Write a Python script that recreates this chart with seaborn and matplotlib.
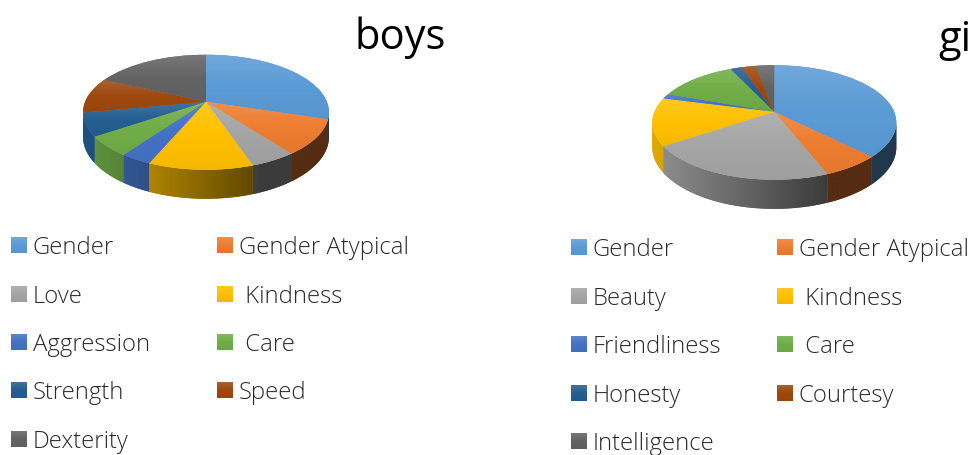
import numpy as np
import matplotlib
matplotlib.use("Agg")
import matplotlib.pyplot as plt
import matplotlib.transforms as mtrans
from matplotlib.patches import Polygon
import seaborn as sns

sns.set_theme(style="white")
plt.rcParams['font.family'] = ['Open Sans', 'DejaVu Sans']

# shares, percent
boys_labels = ['Gender', 'Gender Atypical', 'Love', ' Kindness', 'Aggression',
               ' Care', 'Strength', 'Speed', 'Dexterity']
boys_values = [29.9, 9.9, 5.1, 11.6, 3.5, 5.6, 6.5, 10.0, 18.1]

girls_labels = ['Gender', 'Gender Atypical', 'Beauty', ' Kindness', 'Friendliness',
                ' Care', 'Honesty', 'Courtesy', 'Intelligence']
girls_values = [37.5, 6.5, 21.5, 13.5, 1.4, 12.5, 1.8, 2.2, 3.0]

office_colors = ['#5B9BD5', '#ED7D31', '#A5A5A5', '#FFC000', '#4472C4',
                 '#70AD47', '#255E91', '#9E480E', '#636363']


class Tilt(mtrans.Transform):
    # projective squash of the unit pie, near edge looks bigger than far edge
    input_dims = 2
    output_dims = 2
    is_affine = False
    has_inverse = False

    def __init__(self, cx, cy, rx, ry, k):
        super().__init__()
        self.cx, self.cy, self.rx, self.ry, self.k = cx, cy, rx, ry, k

    def transform_non_affine(self, xy):
        xy = np.asarray(xy, dtype=float)
        w = 1 + self.k * xy[:, 1]
        return np.column_stack([self.cx + self.rx * xy[:, 0] / w,
                                self.cy - self.ry * xy[:, 1] / w])


def gradient(color, n=64):
    base = np.array(matplotlib.colors.to_rgb(color))
    light = base + (1 - base) * 0.13
    dark = base * 0.96
    pal = sns.blend_palette([light, base, dark], n)
    return np.array(pal).reshape(n, 1, 3)


def side_shade(u):
    return np.maximum(0.36, 0.52 - 0.36 * u)


def draw_pie(ax, values, cx, cy, rx, ry, k, depth):
    tilt = Tilt(cx, cy, rx, ry, k)
    edges = np.concatenate([[0], np.cumsum(values)]) / np.sum(values) * 2 * np.pi
    lo = np.pi / 2 + np.arcsin(k)
    hi = 3 * np.pi / 2 - np.arcsin(k)
    # rim: one polygon per slice with a sideways shade clipped to it
    for i in range(len(values)):
        a0, a1 = max(edges[i], lo), min(edges[i + 1], hi)
        if a1 <= a0:
            continue
        th = np.linspace(a0, a1, 60)
        xy = np.column_stack([np.sin(th), np.cos(th)])
        top = tilt.transform_non_affine(xy)
        w = 1 + k * xy[:, 1]
        bottom = top + np.column_stack([np.zeros_like(w), depth / w])
        base = np.array(matplotlib.colors.to_rgb(office_colors[i]))
        mid = (top[:, 0].min() + top[:, 0].max()) / 2
        rim = Polygon(np.vstack([top, bottom[::-1]]), closed=True, linewidth=0,
                      facecolor=base * side_shade((mid - cx) / rx), zorder=1)
        ax.add_patch(rim)
        xs = np.linspace(top[:, 0].min(), top[:, 0].max(), 64)
        row = base[None, None, :] * side_shade((xs - cx) / (rx * 1.017))[None, :, None]
        im = ax.imshow(row, aspect='auto', zorder=1.5, interpolation='bilinear',
                       extent=(xs[0], xs[-1], bottom[:, 1].max() + 1, top[:, 1].min() - 1))
        im.set_clip_path(rim)

    wedges, _ = ax.pie(values, colors=office_colors, startangle=90, counterclock=False,
                       wedgeprops={'linewidth': 0})
    for wedge, color in zip(wedges, office_colors):
        wedge.set_transform(tilt + ax.transData)
        wedge.set_zorder(2)
        pts = tilt.transform_path(wedge.get_path()).vertices
        im = ax.imshow(gradient(color), aspect='auto', zorder=3, interpolation='bilinear',
                       extent=(pts[:, 0].min(), pts[:, 0].max(), pts[:, 1].max(), pts[:, 1].min()))
        im.set_clip_path(wedge)


def draw_legend(ax, labels, x1, x2, rows):
    for i, label in enumerate(labels):
        x = x2 if i % 2 else x1
        y = rows[i // 2]
        ax.imshow(gradient(office_colors[i]), aspect='auto', zorder=3,
                  extent=(x, x + 15.5, y + 8, y - 8))
        ax.text(x + 21.7, y + 2, label, fontsize=17.2, fontweight='light',
                color='#2b2b2b', va='center', ha='left')


fig, ax = plt.subplots(figsize=(9.72, 4.56), dpi=100)
fig.subplots_adjust(0, 0, 1, 1)

draw_pie(ax, boys_values, 206, 102.7, 120.9, 55.6, 0.183, 23.7)
draw_pie(ax, girls_values, 774.3, 112.8, 119.9, 55.3, 0.186, 23.7)
draw_legend(ax, boys_labels, 11, 217, [246, 295, 343, 391, 440])
draw_legend(ax, girls_labels, 571, 777, [248, 297, 345, 394, 442])

ax.text(400, 38, 'boys', fontsize=30, ha='center', va='center', color='black')
ax.text(938, 40, 'girls', fontsize=30, ha='left', va='center', color='black')

ax.set_aspect('auto')
ax.set_xlim(0, 972)
ax.set_ylim(456, 0)
ax.axis('off')

fig.savefig('out.png', dpi=100)
